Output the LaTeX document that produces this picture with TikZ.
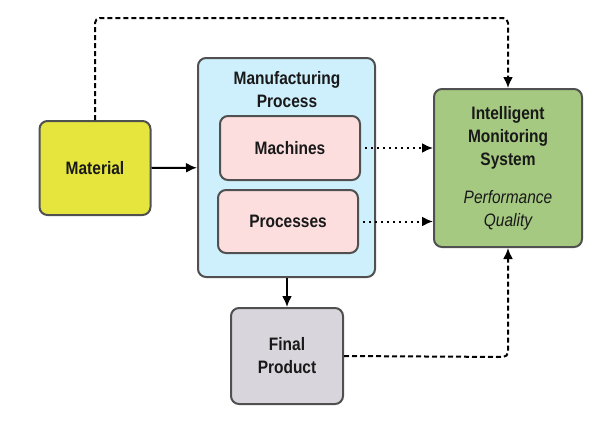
\documentclass[tikz,border=0pt]{standalone}
\usepackage{fontspec}
\setmainfont{Liberation Sans}[FakeStretch=0.86]
\usetikzlibrary{positioning,arrows.meta}
\definecolor{matfill}{RGB}{230,229,62}
\definecolor{mfgfill}{RGB}{206,239,252}
\definecolor{subfill}{RGB}{252,222,222}
\definecolor{imsfill}{RGB}{166,201,130}
\definecolor{prodfill}{RGB}{216,214,220}
\definecolor{edge}{RGB}{80,80,80}
\newcommand{\ital}[1]{{\mdseries\itshape #1}}

\begin{document}
\begin{tikzpicture}[x=1pt, y=-1pt, >={Latex[length=11pt,width=10pt]},
  every node/.style={font=\fontsize{18}{23}\selectfont\bfseries, align=center, text=black!90},
  box/.style={draw=edge, line width=2pt, rounded corners=8pt, inner sep=0pt},
  solidline/.style={->, line width=2pt},
  dotline/.style={->, line width=2pt, dash pattern=on 2pt off 4pt, shorten <=4pt},
  dashline/.style={->, line width=2pt, dash pattern=on 5pt off 3pt, rounded corners=5pt}]
\useasboundingbox (0,0) rectangle (595,429);

% input
\node[box, fill=matfill, minimum width=111, minimum height=94] (mat) at (95,168) {Material};

% manufacturing process
\node[box, fill=mfgfill, minimum width=177, minimum height=219] (mfg) at (286.5,167.5) {};
\node (mfgt) at (287,90) {Manufacturing\\Process};
\node[box, fill=subfill, minimum width=140, minimum height=64] (mach) at (290,148) {Machines};
\node[box, fill=subfill, minimum width=140, minimum height=63] (proc) at (288,221.5) {Processes};

% monitoring
\node[box, fill=imsfill, minimum width=148, minimum height=158] (ims) at (508,168)
  {Intelligent\\Monitoring\\System\\[15pt]\ital{Performance}\\\ital{Quality}};

% output
\node[box, fill=prodfill, minimum width=112, minimum height=96] (prod) at (287,356) {Final\\Product};

\draw[solidline] (mat) -- (mfg);
\draw[solidline] (mfg.south -| prod) -- (prod);
\draw[dotline] (mach.east) -- (mach.east -| ims.west);
\draw[dotline] (proc.east) -- (proc.east -| ims.west);

\coordinate (top) at (508,18);
\coordinate (bot) at (508,357);
\draw[dashline] (mat.north) |- (top) -- (ims.north);
\draw[dashline] (prod.east) -- (bot) -- (ims.south);
\end{tikzpicture}
\end{document}
